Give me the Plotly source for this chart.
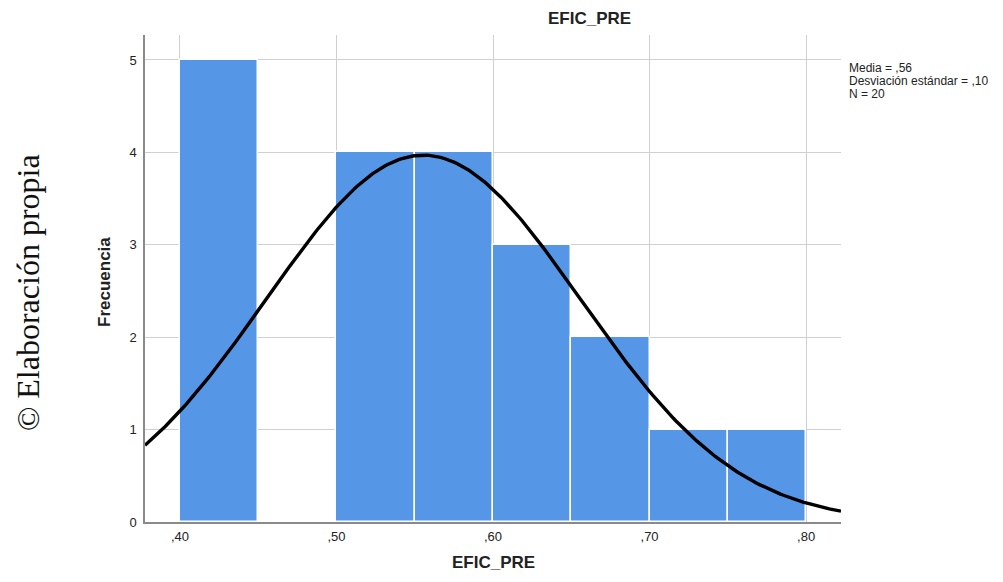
import numpy as np
import plotly.graph_objects as go

bin_left = [0.40, 0.45, 0.50, 0.55, 0.60, 0.65, 0.70, 0.75]
counts = [5, 0, 4, 4, 3, 2, 1, 1]
bin_width = 0.05
mean_val = 0.5555
sd_val = 0.1005
n_total = 20
x_ticks = [0.40, 0.50, 0.60, 0.70, 0.80]
x_tick_labels = [",40", ",50", ",60", ",70", ",80"]
y_ticks = [0, 1, 2, 3, 4, 5]
stats_lines = ["Media = ,56", "Desviación estándar = ,10", "N = 20"]
var_name = "EFIC_PRE"
y_name = "Frecuencia"

x_range = [0.3777, 0.8223]
y_range = [0, 5.27]

# page body has an 8px margin; keep figure inside the viewport
OFF = 8
FW, FH = 1003 - 2 * OFF, 582 - 2 * OFF
L, T = 145 - OFF, 35 - OFF
R = FW - (841 - OFF)
B = FH - (522 - OFF)
PW, PH = 841 - 145, 522 - 35

centers = [b + bin_width / 2 for b in bin_left]

fig = go.Figure()
fig.add_trace(go.Bar(
    x=centers, y=counts, width=[bin_width] * len(centers),
    marker=dict(color="#5596e6", line=dict(color="white", width=1.5)),
    hoverinfo="skip", showlegend=False,
))

xs = np.linspace(x_range[0], x_range[1], 300)
ys = n_total * bin_width / (sd_val * np.sqrt(2 * np.pi)) * np.exp(-0.5 * ((xs - mean_val) / sd_val) ** 2)
fig.add_trace(go.Scatter(x=xs, y=ys, mode="lines", line=dict(color="black", width=3.4),
                         hoverinfo="skip", showlegend=False, cliponaxis=True))

font_main = "Liberation Sans, Arial, sans-serif"
fig.update_layout(
    width=FW, height=FH,
    margin=dict(l=L, r=R, t=T, b=B, autoexpand=False),
    paper_bgcolor="white", plot_bgcolor="white",
    bargap=0,
    font=dict(family=font_main, size=13, color="#222"),
    xaxis=dict(range=x_range, tickvals=x_ticks, ticktext=x_tick_labels,
               showgrid=True, gridcolor="#d0d0d0", gridwidth=1,
               showline=True, linecolor="#8a8a8a", linewidth=1.5,
               zeroline=False, ticks="", ticklen=0, automargin=False,
               tickfont=dict(size=13, color="#222"), ticklabelstandoff=2),
    yaxis=dict(range=y_range, tickvals=y_ticks,
               showgrid=True, gridcolor="#d0d0d0", gridwidth=1,
               showline=True, linecolor="#8a8a8a", linewidth=1.5,
               zeroline=False, ticks="", ticklen=0, automargin=False,
               tickfont=dict(size=13, color="#222"), ticklabelstandoff=4),
)

# chart title
fig.add_annotation(text=f"<b>{var_name}</b>", xref="paper", yref="paper",
                   x=(589 - 145) / PW, y=1, yshift=17, showarrow=False,
                   xanchor="center", yanchor="middle", font=dict(size=17, color="#222", family=font_main))
# x-axis title
fig.add_annotation(text=f"<b>{var_name}</b>", xref="paper", yref="paper",
                   x=(493 - 145) / PW, y=0, yshift=-(562 - 522), showarrow=False,
                   xanchor="center", yanchor="middle", font=dict(size=17, color="#222", family=font_main))
# y-axis title
fig.add_annotation(text=f"<b>{y_name}</b>", xref="paper", yref="paper",
                   x=0, xshift=-(145 - 104), y=(522 - 282) / PH, showarrow=False, textangle=-90,
                   xanchor="center", yanchor="middle", font=dict(size=17, color="#222", family=font_main))

for i, line in enumerate(stats_lines):
    fig.add_annotation(text=line, xref="paper", yref="paper",
                       x=1, xshift=6, y=(522 - (68 + 13 * i)) / PH, showarrow=False, align="left",
                       xanchor="left", yanchor="middle",
                       font=dict(size=12, color="#222", family=font_main))

fig.add_annotation(text="© Elaboración propia", xref="paper", yref="paper",
                   x=0, xshift=-(145 - 28), y=(522 - 293) / PH, showarrow=False,
                   textangle=-90, xanchor="center", yanchor="middle",
                   font=dict(size=32, color="#111", family="Liberation Serif, Times New Roman, serif"))

fig.write_html("out.html")
